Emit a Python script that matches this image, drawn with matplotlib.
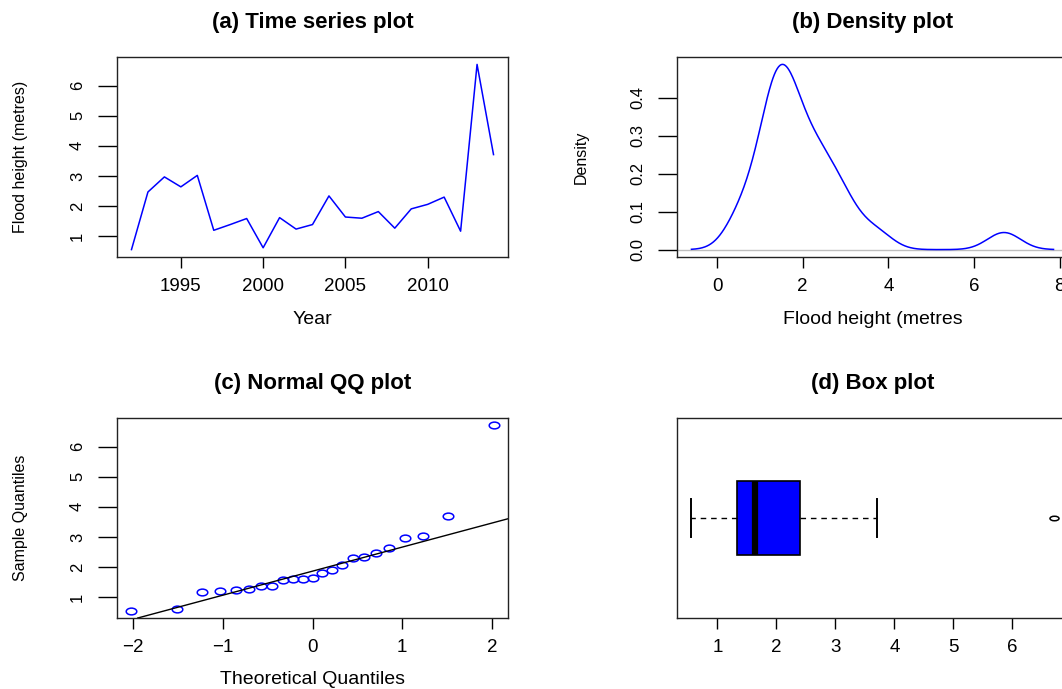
import numpy as np
import matplotlib
matplotlib.use("Agg")
import matplotlib.pyplot as plt
from matplotlib.path import Path
from matplotlib.transforms import Affine2D
from statistics import NormalDist

plt.rcParams['font.family'] = ['Liberation Sans', 'DejaVu Sans']

# Annual flood heights (metres)
years = list(range(1992, 2015))
flood = [0.56, 2.47, 2.97, 2.64, 3.02, 1.20, 1.39, 1.59, 0.62, 1.62, 1.24, 1.39,
         2.34, 1.64, 1.60, 1.82, 1.27, 1.91, 2.06, 2.30, 1.17, 6.70, 3.71]

titles = ['(a) Time series plot', '(b) Density plot',
          '(c) Normal QQ plot', '(d) Box plot']

x = np.array(flood)
n = len(x)

# stretched circle markers (the original image is wider than tall)
ell = Path.unit_circle().transformed(Affine2D().scale(1, 0.64))
ell_small = Path.unit_circle().transformed(Affine2D().scale(1, 0.5))

W, H = 1062, 689
fig = plt.figure(figsize=(W / 100, H / 100), dpi=100)
lefts = [117, 677]
tops = [57, 418]
aw, ah = 391, 200
axes = []
for t in tops:
    for l in lefts:
        axes.append(fig.add_axes([l / W, 1 - (t + ah) / H, aw / W, ah / H]))
ax_a, ax_b, ax_c, ax_d = axes


def r_style(ax, xlabel=None, ylabel=None, title=None):
    for s in ax.spines.values():
        s.set_linewidth(1.0)
        s.set_color('#222222')
    ax.tick_params(axis='x', length=8, width=1, labelsize=13.5, pad=7)
    ax.tick_params(axis='y', length=14, width=1, labelsize=12, pad=9)
    plt.setp(ax.get_yticklabels(), rotation=90, va='center')
    if title:
        ax.set_title(title, fontsize=16, fontweight='bold', pad=21)
    if xlabel:
        ax.set_xlabel(xlabel, fontsize=14)
        ax.xaxis.label.set_va('center')
        ax.xaxis.set_label_coords(0.5, -0.31)
    if ylabel:
        ax.set_ylabel(ylabel, fontsize=11.5)
        ax.yaxis.label.set_va('center')
        ax.yaxis.set_label_coords(-0.246, 0.5)


# (a) time series
ax_a.plot(years, flood, color='blue', lw=1.1)
ax_a.margins(x=0.04, y=0.04)
ax_a.set_xticks([1995, 2000, 2005, 2010])
ax_a.set_yticks([1, 2, 3, 4, 5, 6])
r_style(ax_a, 'Year', 'Flood height (metres)', titles[0])

# (b) kernel density, same rule as R's density() default
q25, q75 = np.percentile(x, [25, 75])
bw = 0.9 * min(x.std(ddof=1), (q75 - q25) / 1.34) * n ** -0.2
gx = np.linspace(x.min() - 3 * bw, x.max() + 3 * bw, 512)
gy = np.exp(-0.5 * ((gx[:, None] - x[None, :]) / bw) ** 2).sum(axis=1) / (n * bw * np.sqrt(2 * np.pi))
ax_b.axhline(0, color='#bebebe', lw=1)
ax_b.plot(gx, gy, color='blue', lw=1.1)
ax_b.margins(x=0.04, y=0.04)
ax_b.set_xticks([0, 2, 4, 6, 8])
ax_b.set_yticks([0.0, 0.1, 0.2, 0.3, 0.4])
ax_b.set_yticklabels(['0.0', '0.1', '0.2', '0.3', '0.4'])
r_style(ax_b, 'Flood height (metres', 'Density', titles[1])

# (c) normal QQ plot with qqline
nd = NormalDist()
pp = (np.arange(1, n + 1) - 0.5) / n
theo = np.array([nd.inv_cdf(p) for p in pp])
samp = np.sort(x)
ax_c.plot(theo, samp, linestyle='none', marker=ell, markersize=7.6,
          markerfacecolor='none', markeredgecolor='blue', markeredgewidth=1.1)
z1, z3 = nd.inv_cdf(0.25), nd.inv_cdf(0.75)
slope = (q75 - q25) / (z3 - z1)
icpt = q25 - slope * z1
ax_c.axline((0, icpt), slope=slope, color='black', lw=1)
ax_c.margins(x=0.04, y=0.04)
ax_c.set_xticks([-2, -1, 0, 1, 2])
ax_c.set_xticklabels(['\u22122', '\u22121', '0', '1', '2'])
ax_c.set_yticks([1, 2, 3, 4, 5, 6])
r_style(ax_c, 'Theoretical Quantiles', 'Sample Quantiles', titles[2])

# (d) horizontal box plot, Tukey hinges like R's boxplot
s = np.sort(x)
med = np.median(s)
lower = s[: (n + 1) // 2]
upper = s[n // 2:]
h1, h3 = np.median(lower), np.median(upper)
iqr = h3 - h1
inside = s[(s >= h1 - 1.5 * iqr) & (s <= h3 + 1.5 * iqr)]
fl = s[(s < h1 - 1.5 * iqr) | (s > h3 + 1.5 * iqr)]
stats = [dict(med=med, q1=h1, q3=h3, whislo=inside.min(), whishi=inside.max(), fliers=fl)]
ax_d.bxp(stats, positions=[1], widths=0.373, vert=False, patch_artist=True,
         boxprops=dict(facecolor='blue', edgecolor='black', lw=1.2),
         medianprops=dict(color='black', lw=4.5, solid_capstyle='butt'),
         whiskerprops=dict(color='black', lw=1, linestyle=(0, (4, 3.5))),
         capprops=dict(color='black', lw=1.4),
         capwidths=0.187,
         flierprops=dict(marker=ell_small, markersize=6.5, markerfacecolor='none',
                         markeredgecolor='black', markeredgewidth=1.1))
ax_d.set_ylim(0.5, 1.5)
lo, hi = s.min(), s.max()
ax_d.set_xlim(lo - 0.04 * (hi - lo), hi + 0.04 * (hi - lo))
ax_d.set_yticks([])
ax_d.set_xticks([1, 2, 3, 4, 5, 6])
r_style(ax_d, None, None, titles[3])

fig.savefig('out.png', dpi=100)
